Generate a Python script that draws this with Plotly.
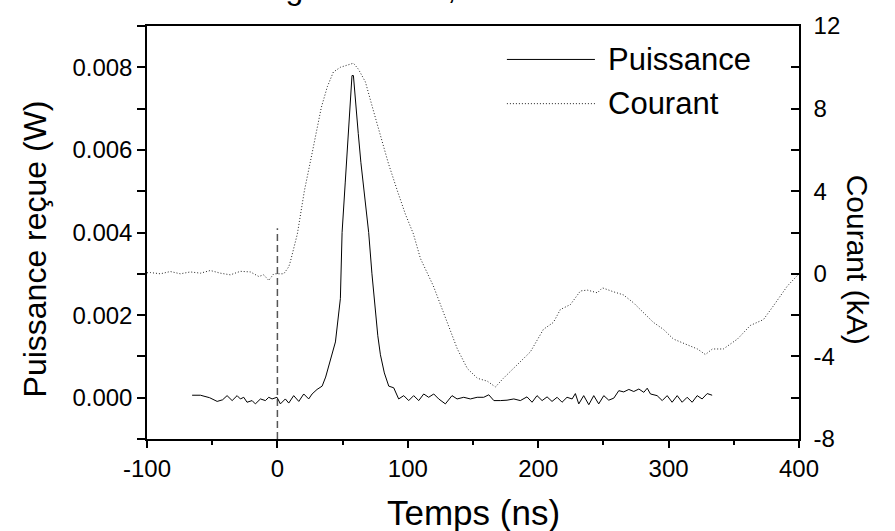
import plotly.graph_objects as go

# ---------------- data ----------------
t_puissance = [-65.4, -59.0, -52.0, -46.2, -42.0, -38.6, -34.7, -30.9, -28.4, -25.8,
               -23.3, -19.4, -16.9, -13.0, -9.2, -6.6, -4.1, -0.3, 2.3, 6.1,
               8.7, 12.5, 16.4, 20.2, 24.0, 26.6, 30.4, 34.3, 37.0, 40.6,
               44.5, 48.3, 49.6, 52.0, 54.0, 56.0, 57.2, 58.3, 60.0, 62.0,
               64.0, 66.0, 68.0, 70.0, 72.5, 75.0, 77.0, 79.0, 82.0, 85.4,
               89.2, 93.0, 96.9, 100.7, 104.5, 108.4, 112.2, 116.0, 119.9, 123.7,
               128.8, 133.9, 137.8, 142.9, 148.0, 153.2, 158.2, 162.1, 166.0, 171.0,
               176.1, 181.3, 186.3, 191.4, 195.3, 199.1, 203.0, 206.8, 210.6, 214.5,
               218.3, 222.1, 226.0, 228.5, 231.1, 234.9, 238.8, 242.6, 246.4, 250.3,
               254.1, 258.0, 261.8, 265.6, 269.5, 273.3, 277.2, 281.0, 283.6, 286.1,
               291.2, 295.1, 298.9, 302.7, 306.6, 310.4, 314.2, 318.1, 321.9, 325.7,
               329.6, 333.4]
puissance = [0.00006, 0.00006, 0.0, -0.00009, -0.00005, 0.00005, -0.00007, 0.00005, -0.00003, 0.00001,
             -0.00011, -0.00007, -0.00015, -0.00003, -0.00007, 0.00001, -0.00003, 0.00001, -0.00015, -0.00003,
             -0.00013, 0.00005, -0.00009, 0.00009, -0.00003, 0.00009, 0.0002, 0.00028, 0.0005, 0.00088,
             0.00135, 0.0024, 0.004, 0.0052, 0.0063, 0.0073, 0.0078, 0.0078, 0.0071, 0.0064,
             0.0057, 0.0051, 0.0045, 0.004, 0.003, 0.0021, 0.0015, 0.00104, 0.0006, 0.00028,
             0.00024, -0.00003, 0.00005, -0.00007, 0.00005, -0.00007, 0.00009, 0.00001, 0.00009, -0.00003,
             -0.00015, 0.00005, -0.00003, 0.00001, -0.00003, 0.00001, 0.00001, 0.00007, -0.00007, -0.00007,
             -0.00006, -0.00003, -0.00007, 0.00002, -0.00011, 0.00005, -0.00007, 0.00002, -0.00009, 0.00001,
             -0.00011, 0.00001, -0.00003, 0.0001, -0.00015, 0.00005, -0.00017, 0.00005, -0.00015, 0.00005,
             -0.00006, -0.00001, 0.00017, 0.00014, 0.0002, 0.00015, 0.00021, 0.00013, 0.00023, 0.00009,
             0.00005, -0.00007, 0.00005, -0.00011, 0.00005, -0.00011, 0.00001, -0.00011, 0.00005, -0.00003,
             0.0001, 0.00006]

t_courant = [-100.0, -97.4, -89.7, -82.1, -74.4, -66.7, -59.0, -51.4, -43.7, -36.1,
             -28.4, -20.7, -14.3, -10.5, -6.6, -2.8, 0.5, 4.9, 8.7, 10.0,
             15.3, 20.7, 26.8, 33.7, 38.3, 42.9, 48.3, 53.7, 58.3, 62.1,
             67.5, 72.9, 79.0, 85.1, 92.0, 98.2, 104.3, 109.7, 119.6, 130.4,
             138.0, 145.7, 153.4, 161.0, 167.2, 173.3, 184.0, 194.0, 204.0, 211.7,
             217.0, 224.7, 232.4, 237.7, 245.4, 249.2, 257.7, 265.3, 273.0, 280.7,
             288.3, 296.0, 303.7, 314.4, 322.1, 328.2, 333.6, 342.0, 352.8, 362.7,
             372.7, 380.4, 391.1, 400.0]
courant = [0.05, 0.06, 0.0, 0.11, 0.0, 0.09, 0.03, 0.16, 0.03, -0.05,
           0.12, 0.09, -0.13, -0.05, -0.32, 0.0, 0.0, 0.0, 0.34, 0.6,
           1.93, 4.02, 5.9, 8.06, 9.06, 9.77, 10.0, 10.1, 10.2, 9.91,
           9.29, 8.06, 6.68, 5.35, 4.02, 2.88, 1.93, 0.74, -0.59, -2.35,
           -3.64, -4.59, -5.06, -5.2, -5.48, -5.06, -4.4, -3.78, -2.69, -2.35,
           -1.73, -1.49, -0.83, -0.79, -0.92, -0.68, -0.87, -1.02, -1.4, -1.87,
           -2.35, -2.69, -3.16, -3.44, -3.64, -3.91, -3.64, -3.64, -3.16, -2.5,
           -2.22, -1.55, -0.59, 0.0]

marker_t = [0, 0]
marker_p = [-0.001, 0.0041]

x_tickvals = [-100, 0, 100, 200, 300, 400]
x_ticktext = ["-100", "0", "100", "200", "300", "400"]
y_tickvals = [0.0, 0.002, 0.004, 0.006, 0.008]
y_ticktext = ["0.000", "0.002", "0.004", "0.006", "0.008"]
y2_tickvals = [-8, -4, 0, 4, 8, 12]
y2_ticktext = ["-8", "-4", "0", "4", "8", "12"]

title_text = "Longueur 10 m, d = 20 m"
legend_names = ["Puissance", "Courant"]

FONT = "Liberation Sans, Arial, sans-serif"
DOT = "1px,2px"

fig = go.Figure()
fig.add_trace(go.Scatter(x=marker_t, y=marker_p, mode="lines",
                         line=dict(color="#555555", width=1.5, dash="7px,4px"),
                         showlegend=False, hoverinfo="skip"))
fig.add_trace(go.Scatter(x=t_puissance, y=puissance, mode="lines", name=legend_names[0],
                         line=dict(color="black", width=1), showlegend=False))
fig.add_trace(go.Scatter(x=t_courant, y=courant, mode="lines", name=legend_names[1], yaxis="y2",
                         line=dict(color="#222222", width=1, dash=DOT), showlegend=False))

axis_common = dict(showgrid=False, zeroline=False, showline=True, linecolor="black",
                   linewidth=1.5, tickcolor="black", tickwidth=1.5,
                   tickfont=dict(family=FONT, size=24, color="black"))

fig.update_layout(
    width=895, height=531,
    margin=dict(l=147, r=96, t=18, b=92),
    paper_bgcolor="white", plot_bgcolor="white",
    font=dict(family=FONT, color="black"),
    xaxis=dict(range=[-100, 400], tickvals=x_tickvals, ticktext=x_ticktext,
               ticks="outside", ticklen=7, mirror=True,
               minor=dict(tick0=0, dtick=50, ticks="outside", ticklen=4,
                          tickwidth=1.5, tickcolor="black"),
               **axis_common),
    yaxis=dict(range=[-0.001, 0.009], tickvals=y_tickvals, ticktext=y_ticktext,
               ticks="outside", ticklen=8,
               minor=dict(tick0=0, dtick=0.001, ticks="outside", ticklen=8,
                          tickwidth=1.5, tickcolor="black"),
               **axis_common),
    yaxis2=dict(range=[-8, 12], tickvals=y2_tickvals, ticktext=y2_ticktext,
                overlaying="y", side="right", ticks="inside", ticklen=8,
                ticklabelstandoff=8,
                minor=dict(tick0=0, dtick=2, ticks="inside", ticklen=8,
                           tickwidth=1.5, tickcolor="black"),
                **axis_common),
    showlegend=False,
)

annots = [
    dict(text=title_text, xref="paper", yref="paper", x=0.127, y=1.043,
         xanchor="left", yanchor="bottom", showarrow=False,
         font=dict(family=FONT, size=32, color="black")),
    dict(text="Temps (ns)", xref="paper", yref="paper", x=0.5, y=-0.178,
         xanchor="center", yanchor="middle", showarrow=False,
         font=dict(family=FONT, size=35, color="black")),
    dict(text="Puissance reçue (W)", xref="paper", yref="paper", x=-0.172, y=0.461,
         xanchor="center", yanchor="middle", textangle=-90, showarrow=False,
         font=dict(family=FONT, size=32, color="black")),
    dict(text="Courant (kA)", xref="paper", yref="paper", x=1.090, y=0.435,
         xanchor="center", yanchor="middle", textangle=90, showarrow=False,
         font=dict(family=FONT, size=30, color="black")),
    dict(text=legend_names[0], xref="paper", yref="paper", x=0.704, y=0.919,
         xanchor="left", yanchor="middle", showarrow=False,
         font=dict(family=FONT, size=31, color="black")),
    dict(text=legend_names[1], xref="paper", yref="paper", x=0.704, y=0.812,
         xanchor="left", yanchor="middle", showarrow=False,
         font=dict(family=FONT, size=31, color="black")),
]
fig.update_layout(annotations=annots)

fig.add_shape(type="line", xref="paper", yref="paper", x0=0.552, x1=0.687, y0=0.919, y1=0.919,
              line=dict(color="black", width=1))
fig.add_shape(type="line", xref="paper", yref="paper", x0=0.552, x1=0.687, y0=0.812, y1=0.812,
              line=dict(color="#222222", width=1, dash=DOT))

fig.write_html("out.html")
